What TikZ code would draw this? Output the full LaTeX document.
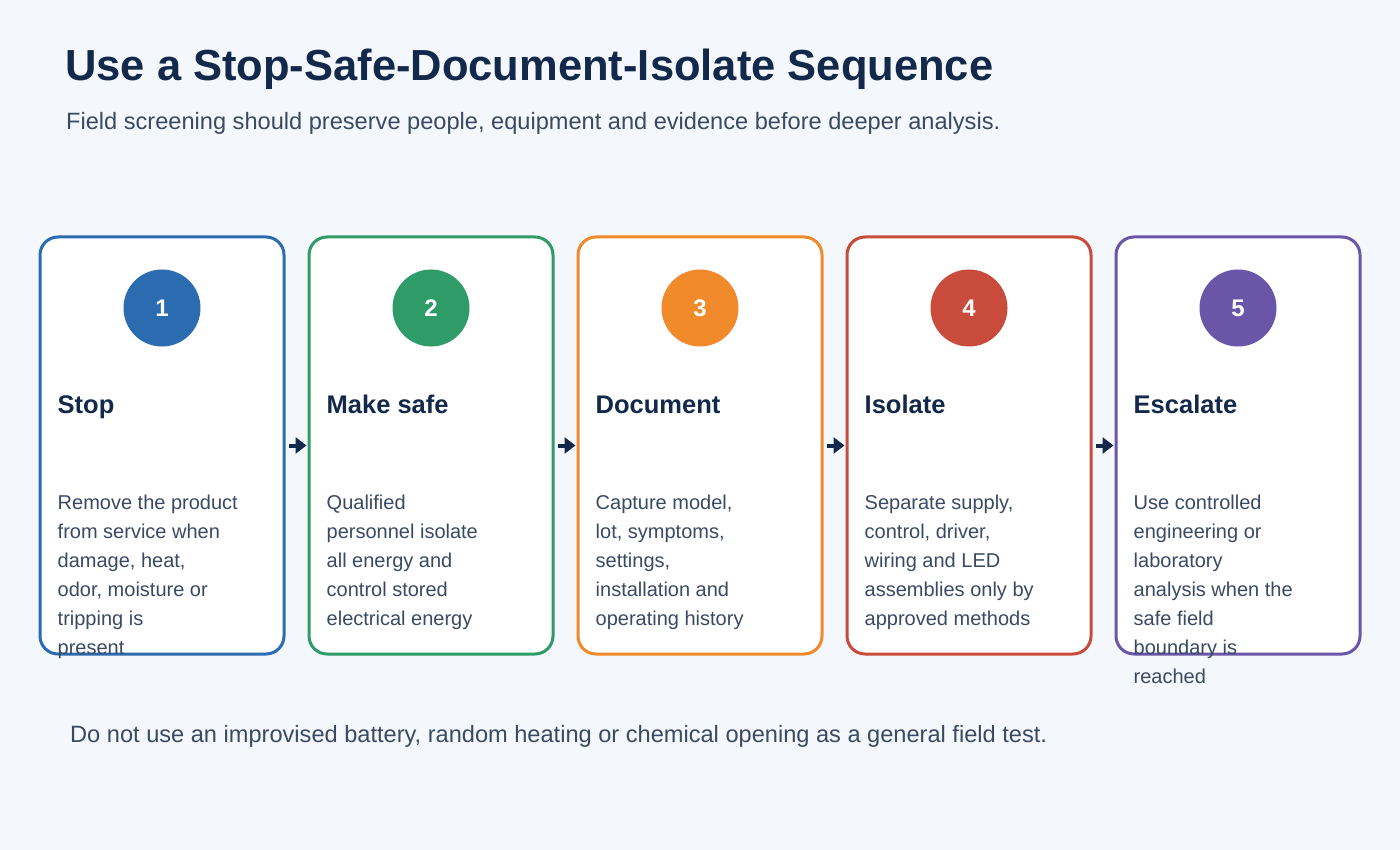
\documentclass[tikz,border=0pt]{standalone}
\usepackage{fontspec}
\setmainfont{Liberation Sans}
\usepackage{xcolor}
\usetikzlibrary{arrows.meta, positioning}

\definecolor{pagebg}{HTML}{F4F7FB}
\definecolor{navy}{HTML}{13294B}
\definecolor{slate}{HTML}{3A4A63}
\definecolor{cblue}{HTML}{2B6CB0}
\definecolor{cgreen}{HTML}{2F9B68}
\definecolor{corange}{HTML}{F08A2A}
\definecolor{cred}{HTML}{C84B3C}
\definecolor{cpurple}{HTML}{6A56A8}

\tikzset{
  card/.style={rectangle, fill=white, rounded corners=18pt, line width=3pt,
               minimum width=244pt, minimum height=417pt, inner sep=0pt},
  badge/.style={circle, minimum size=77pt, inner sep=0pt, text=white,
                font=\fontsize{24}{24}\selectfont\bfseries},
  steptitle/.style={anchor=base west, inner sep=0pt, text=navy,
                    font=\fontsize{25.5}{25.5}\selectfont\bfseries},
  stepbody/.style={anchor=north west, inner sep=0pt, text=slate, align=left,
                   font=\fontsize{20}{29}\selectfont},
  arrow/.style={-{Triangle[length=11pt, width=16pt]}, draw=navy, line width=4pt,
                shorten <=3pt, shorten >=1pt},
  heading/.style={anchor=base west, inner sep=0pt, text=navy,
                  font=\fontsize{43.5}{43.5}\selectfont\bfseries},
  note/.style={anchor=base west, inner sep=0pt, text=slate,
               font=\fontsize{23.6}{23.6}\selectfont},
}

\begin{document}
\begin{tikzpicture}[x=1pt, y=-1pt]
  % Background
  \fill[pagebg] (0,0) rectangle (1400,850);

  % Header
  \node[heading] (title) at (65,81) {Use a Stop-Safe-Document-Isolate Sequence};
  \node[note] (subtitle) at (66,130) {Field screening should preserve people, equipment and evidence before deeper analysis.};

  % Cards
  \node[card, draw=cblue] (c1) at (162,445.5) {};
  \node[card, draw=cgreen, right=22pt of c1] (c2) {};
  \node[card, draw=corange, right=22pt of c2] (c3) {};
  \node[card, draw=cred, right=22pt of c3] (c4) {};
  \node[card, draw=cpurple, right=22pt of c4] (c5) {};

  % Badges
  \node[badge, fill=cblue] (b1) at (c1.center |- 0,308) {1};
  \node[badge, fill=cgreen] (b2) at (c2.center |- 0,308) {2};
  \node[badge, fill=corange] (b3) at (c3.center |- 0,308) {3};
  \node[badge, fill=cred] (b4) at (c4.center |- 0,308) {4};
  \node[badge, fill=cpurple] (b5) at (c5.center |- 0,308) {5};

  % Step titles
  \node[steptitle] (t1) at ([xshift=19pt]c1.west |- 0,413) {Stop};
  \node[steptitle] (t2) at ([xshift=19pt]c2.west |- 0,413) {Make safe};
  \node[steptitle] (t3) at ([xshift=19pt]c3.west |- 0,413) {Document};
  \node[steptitle] (t4) at ([xshift=19pt]c4.west |- 0,413) {Isolate};
  \node[steptitle] (t5) at ([xshift=19pt]c5.west |- 0,413) {Escalate};

  % Step texts (drawn over the frames, as they run past the bottom)
  \node[stepbody] (d1) at ([xshift=19pt]c1.west |- 0,494.5) {Remove the product\\from service when\\damage, heat,\\odor, moisture or\\tripping is\\present};
  \node[stepbody] (d2) at ([xshift=19pt]c2.west |- 0,494.5) {Qualified\\personnel isolate\\all energy and\\control stored\\electrical energy};
  \node[stepbody] (d3) at ([xshift=19pt]c3.west |- 0,494.5) {Capture model,\\lot, symptoms,\\settings,\\installation and\\operating history};
  \node[stepbody] (d4) at ([xshift=19pt]c4.west |- 0,494.5) {Separate supply,\\control, driver,\\wiring and LED\\assemblies only by\\approved methods};
  \node[stepbody] (d5) at ([xshift=19pt]c5.west |- 0,494.5) {Use controlled\\engineering or\\laboratory\\analysis when the\\safe field\\boundary is\\reached};

  % Arrows
  \draw[arrow] (c1) -- (c2);
  \draw[arrow] (c2) -- (c3);
  \draw[arrow] (c3) -- (c4);
  \draw[arrow] (c4) -- (c5);

  % Footer
  \node[note] (footer) at (70,742) {Do not use an improvised battery, random heating or chemical opening as a general field test.};
\end{tikzpicture}
\end{document}
